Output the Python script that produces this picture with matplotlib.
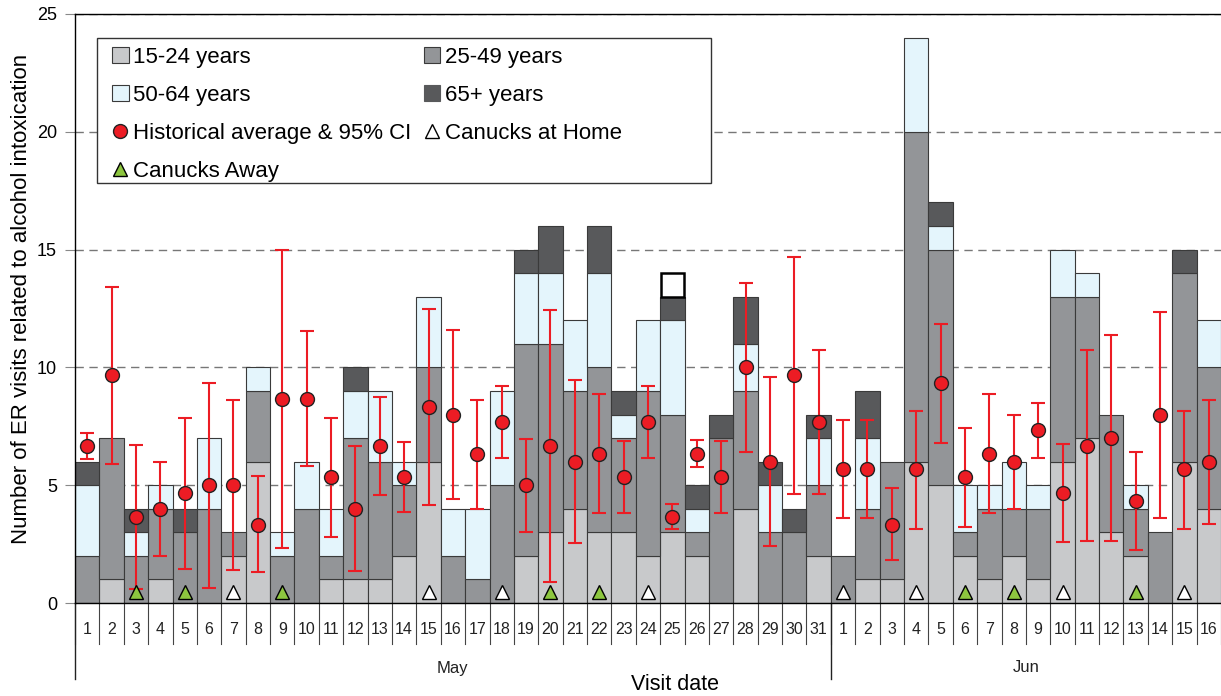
import matplotlib
matplotlib.use("Agg")
import matplotlib.pyplot as plt
import numpy as np
from matplotlib.patches import Patch, Rectangle
from matplotlib.lines import Line2D

plt.rcParams['font.family'] = ['Liberation Sans', 'DejaVu Sans']

days = [str(d) for d in range(1, 32)] + [str(d) for d in range(1, 17)]
months = ["May", "Jun"]
month_lengths = [31, 16]

age15_24 = [0,1,0,1,0,0,2,6,0,0,1,1,1,2,6,0,0,0,2,3,4,3,3,2,3,2,0,4,0,0,2,
            0,1,1,6,5,2,1,2,1,6,7,3,2,0,6,4]
age25_49 = [2,6,2,3,3,4,1,3,2,4,1,6,5,3,4,2,1,5,9,8,5,7,4,7,5,1,7,5,3,3,3,
            2,3,5,14,10,1,3,2,3,7,6,5,2,3,8,6]
age50_64 = [3,0,1,1,0,3,0,1,1,2,2,2,3,1,3,2,3,4,3,3,3,4,1,3,4,1,0,2,2,0,2,
            0,3,0,4,1,2,1,2,1,2,1,0,1,0,0,2]
age65p   = [1,0,1,0,1,0,0,0,0,0,0,1,0,0,0,0,0,0,1,2,0,2,1,0,1,1,1,2,1,1,1,
            0,2,0,0,1,0,0,0,0,0,0,0,0,0,1,0]
unknown  = [0]*24 + [1] + [0]*22

hist_mean = [6.67,9.67,3.67,4.0,4.67,5.0,5.0,3.33,8.67,8.67,5.33,4.0,6.67,5.33,8.33,8.0,
             6.33,7.67,5.0,6.67,6.0,6.33,5.33,7.67,3.67,6.33,5.33,10.0,6.0,9.67,7.67,
             5.67,5.67,3.33,5.67,9.33,5.33,6.33,6.0,7.33,4.67,6.67,7.0,4.33,8.0,5.67,6.0]
hist_lo = [6.1,5.9,0.6,2.0,1.45,0.65,1.4,1.3,2.35,5.8,2.8,1.35,4.6,3.85,4.18,4.4,
           4.0,6.14,3.0,0.9,2.55,3.83,3.83,6.14,3.12,5.77,3.83,6.4,2.4,4.63,4.63,
           3.6,3.6,1.81,3.15,6.81,3.24,3.83,4.0,6.17,2.57,2.63,2.63,2.25,3.62,3.15,3.34]
hist_hi = [7.2,13.4,6.7,6.0,7.85,9.35,8.6,5.4,15.0,11.55,7.85,6.65,8.75,6.85,12.5,11.6,
           8.62,9.2,6.98,12.43,9.45,8.86,6.86,9.2,4.21,6.9,6.86,13.6,9.6,14.7,10.72,
           7.75,7.75,4.87,8.15,11.85,7.42,8.86,7.99,8.49,6.74,10.72,11.36,6.41,12.35,8.15,8.62]

home_days = [7, 15, 18, 24, 32, 35, 41, 46]    # positions (1-based over 47 days)
away_days = [3, 5, 9, 20, 22, 37, 39, 44]

c1524 = '#c8c9cb'
c2549 = '#939598'
c5064 = '#e4f5fc'
c65 = '#58595b'
red = '#ec1c24'
green = '#8dc63f'

W, H = 1221, 696
fig = plt.figure(figsize=(W/100, H/100), dpi=100)
ax = fig.add_axes([75/W, (H-603)/H, 1146/W, 589/H])

x = np.arange(1, len(days)+1)
a = np.array(age15_24); b = np.array(age25_49); c = np.array(age50_64); d = np.array(age65p)
u = np.array(unknown)
ec = '#3a3a3a'
bw = 1.0

def stack(vals, bottom, **kw):
    mask = vals > 0
    ax.bar(x[mask], vals[mask], bw, bottom=bottom[mask], zorder=2, **kw)

zero = np.zeros_like(a)
stack(a, zero, color=c1524, edgecolor=ec, lw=0.8)
stack(b, a, color=c2549, edgecolor=ec, lw=0.8)
stack(c, a+b, color=c5064, edgecolor=ec, lw=0.8)
stack(d, a+b+c, color=c65, edgecolor=ec, lw=0.8)
mask = u > 0
ax.bar(x[mask], u[mask], bw*0.92, bottom=(a+b+c+d)[mask], color='white', edgecolor='black',
       lw=1.8, zorder=2)

m = np.array(hist_mean)
ax.errorbar(x, m, yerr=[m-np.array(hist_lo), np.array(hist_hi)-m], fmt='none',
            ecolor=red, elinewidth=1.5, capsize=5, capthick=1.5, zorder=3)
ax.plot(x, m, 'o', ms=10, mfc=red, mec='#222222', mew=1.0, ls='none', zorder=4)

ax.plot(home_days, [0.45]*len(home_days), '^', ms=10, mfc='white', mec='black', mew=1.0, ls='none', zorder=4)
ax.plot(away_days, [0.45]*len(away_days), '^', ms=10, mfc=green, mec='black', mew=1.0, ls='none', zorder=4)

ax.set_xlim(0.5, len(days)+0.5)
ax.set_ylim(0, 25)
ax.set_yticks([0, 5, 10, 15, 20, 25])
ax.tick_params(axis='y', direction='out', length=7, color='#888888', labelsize=13, pad=6)
ax.set_xticks([])
ax.yaxis.grid(True, ls=(0, (6, 4)), color='#777777', lw=1.0)
ax.set_axisbelow(True)
ax.spines['right'].set_visible(False)
for s in ['top', 'bottom', 'left']:
    ax.spines[s].set_color('black')
    ax.spines[s].set_linewidth(1.0)

# day labels & separators
tr = ax.get_xaxis_transform()
yb = -41/589
for i in range(len(days)+1):
    xe = i + 0.5
    ax.plot([xe, xe], [0, yb], color='#444444', lw=0.8, transform=tr, clip_on=False)
for i, lab in enumerate(days):
    ax.text(i+1, -26/589, lab, transform=tr, ha='center', va='center', fontsize=11.5,
            color='#222222')
# month separators and labels
start = 0.5
for mname, ml in zip(months, month_lengths):
    ax.plot([start, start], [0, -76/589], color='#222222', lw=1.0, transform=tr, clip_on=False)
    ax.text(start + ml/2, -65/589, mname, transform=tr, ha='center', va='center', fontsize=12,
            color='#222222')
    start += ml

fig.text(675/W, 1-684/H, 'Visit date', ha='center', va='center', fontsize=15.5)
fig.text(22/W, 1-299/H, 'Number of ER visits related to alcohol intoxication', rotation=90,
         ha='center', va='center', fontsize=16)

# legend
handles = [
    Patch(facecolor=c1524, edgecolor=ec, lw=0.8),
    Patch(facecolor=c5064, edgecolor=ec, lw=0.8),
    Line2D([], [], marker='o', ms=10, mfc=red, mec='#222222', ls='none'),
    Line2D([], [], marker='^', ms=10, mfc=green, mec='black', ls='none'),
    Patch(facecolor=c2549, edgecolor=ec, lw=0.8),
    Patch(facecolor=c65, edgecolor=c65, lw=0.8),
    Line2D([], [], marker='^', ms=10, mfc='white', mec='black', ls='none'),
]
labels = ['15-24 years', '50-64 years', 'Historical average & 95% CI', 'Canucks Away',
          '25-49 years', '65+ years', 'Canucks at Home']
leg = ax.legend(handles, labels, ncol=2, loc='upper left',
                bbox_to_anchor=((112-75)/1146, (603-47)/589), frameon=False,
                fontsize=16, handlelength=0.75, handleheight=0.75, handletextpad=0.2,
                labelspacing=0.76, columnspacing=0.55, borderaxespad=0, borderpad=0)
leg.set_zorder(6)
rect = Rectangle((97/W, 1-183/H), (711-97)/W, (183-38)/H, transform=fig.transFigure,
                 facecolor='white', edgecolor='#333333', lw=1.0, zorder=5)
ax.add_patch(rect)
rect.set_clip_on(False)

fig.savefig('out.png', dpi=100)
